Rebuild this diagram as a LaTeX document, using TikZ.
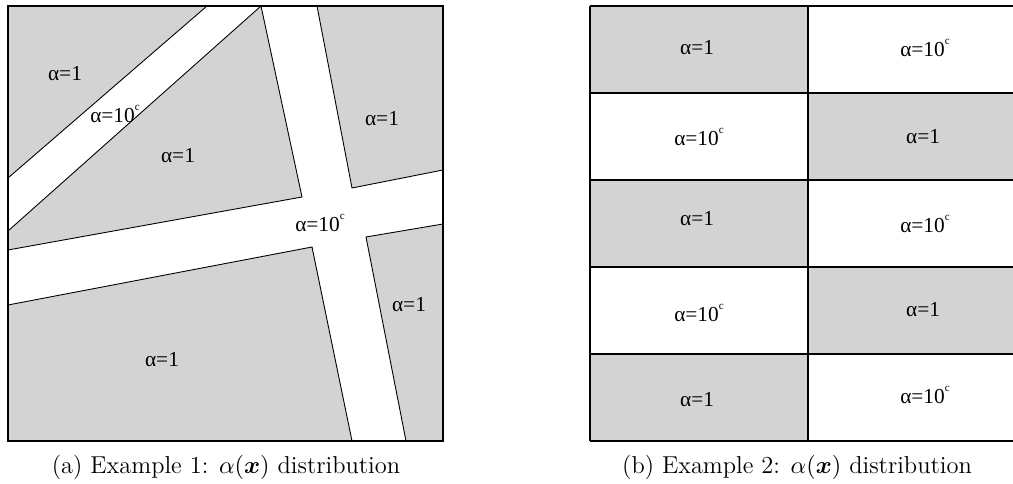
\documentclass[tikz,border=0pt]{standalone}
\usepackage{amsmath}
\usepackage{fontspec}
\newfontfamily\tnr{Liberation Serif}
\definecolor{fillgray}{RGB}{211,211,211}
\newcommand{\tenc}{10\raisebox{0.55em}{\fontsize{5}{5}\selectfont c}}
\begin{document}
\begin{tikzpicture}[x=0.45pt,y=-0.45pt,
  region/.style={fill=fillgray,draw=black,line width=0.4pt},
  frame/.style={draw=black,line width=0.7pt},
  lbl/.style={font=\tnr\fontsize{9.6}{11}\selectfont,inner sep=0pt},
  captext/.style={font=\fontsize{11}{13}\selectfont,inner sep=0pt}]
\useasboundingbox (0,0) rectangle (1013,484);
\clip (0,0) rectangle (1013,484);
% ---- panel (a)
\fill[white] (8,6) rectangle (443,441);
\draw[region] (8,6) -- (207,6) -- (8,178) -- cycle;
\draw[region] (261,6) -- (302,197) -- (8,250) -- (8,231) -- cycle;
\draw[region] (317,6) -- (443,6) -- (443,170) -- (352,188) -- cycle;
\draw[region] (366,237) -- (443,224) -- (443,441) -- (406,441) -- cycle;
\draw[region] (8,305) -- (312,247) -- (352,441) -- (8,441) -- cycle;
\draw[frame] (8,6) rectangle (443,441);
\node[lbl] (a1) at (65,74) {α=1};
\node[lbl] (a2) at (115,114) {α=\tenc};
\node[lbl] (a3) at (178,156) {α=1};
\node[lbl] (a4) at (382,119) {α=1};
\node[lbl] (a5) at (320,223) {α=\tenc};
\node[lbl] (a6) at (409,305) {α=1};
\node[lbl] (a7) at (162,360) {α=1};
\node[captext] (capa) at (226,467) {(a) Example 1: $\alpha(\boldsymbol{x})$ distribution};
% ---- panel (b)
\foreach \r/\c in {0/0,1/1,2/0,3/1,4/0}{
  \pgfmathsetmacro{\ya}{6+87*\r}
  \pgfmathsetmacro{\yb}{93+87*\r}
  \ifnum\c=0
    \fill[fillgray] (590,\ya) rectangle (808,\yb);
  \else
    \fill[fillgray] (808,\ya) rectangle (1030,\yb);
  \fi
}
\foreach \y in {6,93,180,267,354,441}{\draw[frame] (590,\y) -- (1030,\y);}
\draw[frame] (590,6) -- (590,441);
\draw[frame] (808,6) -- (808,441);
\node[lbl] (b1) at (697,48) {α=1};
\node[lbl] (b2) at (925,48) {α=\tenc};
\node[lbl] (b3) at (699,137) {α=\tenc};
\node[lbl] (b4) at (923,137) {α=1};
\node[lbl] (b5) at (697,219) {α=1};
\node[lbl] (b6) at (925,224) {α=\tenc};
\node[lbl] (b7) at (699,313) {α=\tenc};
\node[lbl] (b8) at (923,310) {α=1};
\node[lbl] (b9) at (697,400) {α=1};
\node[lbl] (b10) at (925,395) {α=\tenc};
\node[captext] (capb) at (797,467) {(b) Example 2: $\alpha(\boldsymbol{x})$ distribution};
\end{tikzpicture}
\end{document}
